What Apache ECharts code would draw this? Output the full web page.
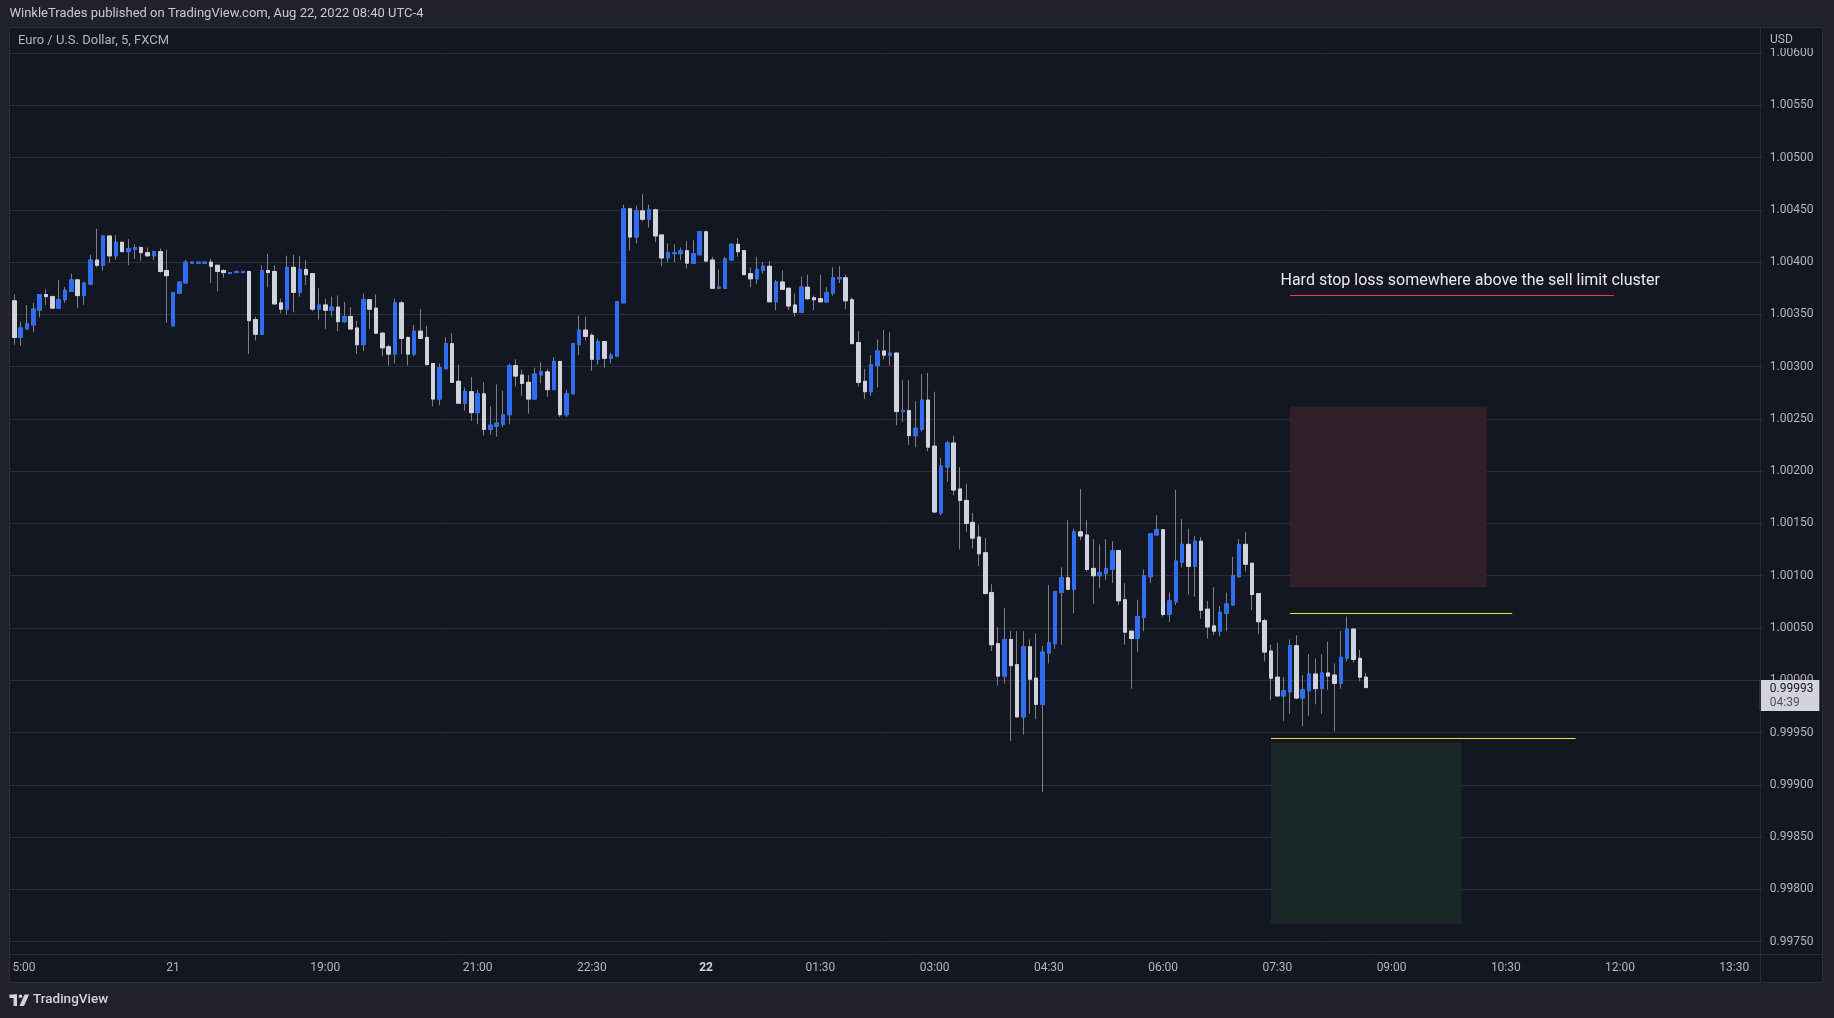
<!DOCTYPE html>
<html><head><meta charset="utf-8">
<script src="https://cdn.jsdelivr.net/npm/echarts/dist/echarts.min.js"></script>
<style>html,body{margin:0;padding:0;background:#1f222b;}#chart{width:1834px;height:1018px;}</style>
</head><body><div id="chart"></div>
<script>
// ---- data (5-minute EUR/USD bars, slot 0 = 14:50 Aug 19) ----
const open = [
1.00375,1.00363,1.00328,1.00336,1.00340,1.00354,1.00369,1.00367,1.00356,1.00364,
1.00372,1.00383,1.00368,1.00379,1.00402,1.00397,1.00425,1.00406,1.00419,1.00410,
1.00412,1.00414,1.00409,1.00406,1.00410,1.00392,1.00339,1.00370,1.00380,1.00399,
1.00399,1.00399,1.00400,1.00397,1.00392,1.00389,1.00390,1.00390,1.00391,1.00345,
1.00331,1.00392,1.00391,1.00361,1.00355,1.00395,1.00371,1.00393,1.00389,1.00355,
1.00359,1.00354,1.00357,1.00343,1.00348,1.00337,1.00321,1.00364,1.00356,1.00332,
1.00319,1.00312,1.00361,1.00328,1.00312,1.00334,1.00328,1.00303,1.00269,1.00298,
1.00322,1.00286,1.00265,1.00276,1.00256,1.00274,1.00240,1.00243,1.00245,1.00254,
1.00301,1.00292,1.00285,1.00269,1.00292,1.00295,1.00278,1.00305,1.00254,1.00274,
1.00321,1.00335,1.00330,1.00307,1.00324,1.00308,1.00310,1.00361,1.00451,1.00424,
1.00449,1.00441,1.00450,1.00426,1.00404,1.00408,1.00408,1.00411,1.00399,1.00407,
1.00429,1.00402,1.00375,1.00375,1.00402,1.00417,1.00411,1.00389,1.00384,1.00392,
1.00396,1.00362,1.00381,1.00375,1.00359,1.00352,1.00376,1.00366,1.00365,1.00362,
1.00370,1.00384,1.00385,1.00364,1.00323,1.00286,1.00276,1.00301,1.00315,1.00311,
1.00313,1.00257,1.00258,1.00234,1.00240,1.00268,1.00224,1.00160,1.00204,1.00227,
1.00183,1.00172,1.00151,1.00137,1.00122,1.00084,1.00035,1.00004,1.00039,1.00015,
0.99965,1.00032,1.00002,0.99977,1.00026,1.00035,1.00084,1.00098,1.00087,1.00142,
1.00139,1.00107,1.00100,1.00102,1.00106,1.00124,1.00077,1.00047,1.00040,1.00060,
1.00099,1.00139,1.00144,1.00063,1.00075,1.00113,1.00130,1.00109,1.00133,1.00068,
1.00052,1.00047,1.00064,1.00072,1.00099,1.00130,1.00112,1.00083,1.00057,1.00028,
1.00003,0.99985,0.99989,1.00033,0.99983,0.99990,1.00006,0.99992,1.00007,1.00005,
0.99997,1.00021,1.00049,1.00021,1.00003];
const high = [
1.00376,1.00369,1.00343,1.00359,1.00361,1.00369,1.00374,1.00368,1.00383,1.00376,
1.00389,1.00383,1.00381,1.00407,1.00432,1.00425,1.00425,1.00426,1.00419,1.00422,
1.00417,1.00415,1.00414,1.00411,1.00413,1.00412,1.00371,1.00381,1.00402,1.00401,
1.00400,1.00400,1.00403,1.00397,1.00393,1.00390,1.00392,1.00392,1.00392,1.00348,
1.00397,1.00408,1.00397,1.00365,1.00406,1.00407,1.00406,1.00402,1.00389,1.00375,
1.00365,1.00367,1.00368,1.00362,1.00357,1.00344,1.00370,1.00364,1.00369,1.00333,
1.00321,1.00365,1.00363,1.00328,1.00340,1.00355,1.00339,1.00303,1.00303,1.00328,
1.00332,1.00302,1.00280,1.00290,1.00278,1.00285,1.00262,1.00283,1.00277,1.00303,
1.00307,1.00297,1.00292,1.00299,1.00304,1.00298,1.00309,1.00305,1.00278,1.00322,
1.00349,1.00348,1.00332,1.00327,1.00324,1.00313,1.00362,1.00455,1.00452,1.00454,
1.00465,1.00455,1.00451,1.00426,1.00418,1.00417,1.00414,1.00420,1.00421,1.00429,
1.00430,1.00405,1.00393,1.00405,1.00418,1.00423,1.00411,1.00395,1.00405,1.00400,
1.00401,1.00383,1.00392,1.00375,1.00370,1.00386,1.00388,1.00368,1.00388,1.00376,
1.00395,1.00396,1.00388,1.00366,1.00334,1.00298,1.00311,1.00326,1.00335,1.00333,
1.00313,1.00287,1.00287,1.00267,1.00293,1.00294,1.00276,1.00213,1.00229,1.00234,
1.00204,1.00188,1.00160,1.00149,1.00136,1.00092,1.00051,1.00069,1.00047,1.00047,
1.00047,1.00039,1.00045,1.00033,1.00091,1.00085,1.00108,1.00153,1.00145,1.00183,
1.00153,1.00135,1.00130,1.00135,1.00133,1.00124,1.00093,1.00047,1.00077,1.00106,
1.00140,1.00158,1.00144,1.00084,1.00182,1.00154,1.00145,1.00138,1.00137,1.00076,
1.00089,1.00071,1.00084,1.00118,1.00135,1.00142,1.00112,1.00083,1.00059,1.00034,
1.00036,1.00003,1.00039,1.00043,1.00005,1.00025,1.00021,1.00025,1.00037,1.00016,
1.00047,1.00061,1.00049,1.00029,1.00007];
const low = [
1.00360,1.00321,1.00320,1.00336,1.00333,1.00347,1.00359,1.00356,1.00356,1.00361,
1.00372,1.00356,1.00359,1.00378,1.00395,1.00392,1.00399,1.00402,1.00410,1.00397,
1.00403,1.00401,1.00406,1.00402,1.00390,1.00342,1.00339,1.00370,1.00380,1.00399,
1.00399,1.00399,1.00380,1.00372,1.00385,1.00389,1.00390,1.00390,1.00312,1.00325,
1.00331,1.00376,1.00360,1.00351,1.00350,1.00352,1.00367,1.00378,1.00353,1.00345,
1.00336,1.00348,1.00334,1.00342,1.00336,1.00312,1.00315,1.00336,1.00331,1.00310,
1.00301,1.00303,1.00312,1.00301,1.00310,1.00327,1.00301,1.00262,1.00263,1.00298,
1.00285,1.00265,1.00258,1.00248,1.00245,1.00234,1.00235,1.00233,1.00242,1.00245,
1.00281,1.00272,1.00255,1.00269,1.00284,1.00271,1.00278,1.00252,1.00252,1.00274,
1.00311,1.00325,1.00296,1.00302,1.00299,1.00303,1.00310,1.00361,1.00411,1.00418,
1.00439,1.00433,1.00419,1.00396,1.00400,1.00400,1.00402,1.00394,1.00399,1.00407,
1.00400,1.00375,1.00375,1.00375,1.00402,1.00405,1.00388,1.00376,1.00379,1.00389,
1.00362,1.00354,1.00374,1.00354,1.00348,1.00352,1.00364,1.00354,1.00362,1.00361,
1.00368,1.00380,1.00355,1.00322,1.00281,1.00269,1.00272,1.00280,1.00307,1.00301,
1.00244,1.00247,1.00225,1.00223,1.00238,1.00219,1.00160,1.00158,1.00190,1.00177,
1.00125,1.00142,1.00126,1.00109,1.00082,1.00028,0.99995,0.99997,0.99942,0.99965,
0.99948,0.99968,0.99963,0.99893,1.00016,1.00030,1.00034,1.00086,1.00064,1.00134,
1.00104,1.00073,1.00088,1.00096,1.00093,1.00072,1.00034,0.99992,1.00027,1.00047,
1.00093,1.00139,1.00061,1.00056,1.00072,1.00108,1.00082,1.00080,1.00059,1.00040,
1.00043,1.00042,1.00047,1.00072,1.00098,1.00104,1.00067,1.00044,1.00018,0.99981,
0.99985,0.99961,0.99968,0.99982,0.99956,0.99966,0.99977,0.99968,0.99991,0.99951,
0.99992,1.00018,1.00017,0.99999,0.99993];
const close = [
1.00362,1.00328,1.00337,1.00341,1.00355,1.00369,1.00367,1.00356,1.00364,1.00373,
1.00383,1.00368,1.00380,1.00402,1.00397,1.00425,1.00406,1.00419,1.00410,1.00413,
1.00414,1.00409,1.00406,1.00410,1.00391,1.00387,1.00371,1.00381,1.00400,1.00400,
1.00400,1.00400,1.00396,1.00391,1.00390,1.00390,1.00391,1.00391,1.00344,1.00331,
1.00392,1.00390,1.00360,1.00355,1.00395,1.00371,1.00393,1.00388,1.00355,1.00359,
1.00354,1.00357,1.00343,1.00348,1.00336,1.00321,1.00364,1.00355,1.00332,1.00318,
1.00312,1.00361,1.00327,1.00312,1.00334,1.00327,1.00302,1.00269,1.00299,1.00322,
1.00285,1.00265,1.00276,1.00256,1.00274,1.00240,1.00244,1.00246,1.00254,1.00301,
1.00291,1.00284,1.00269,1.00293,1.00295,1.00278,1.00305,1.00254,1.00274,1.00322,
1.00335,1.00329,1.00307,1.00324,1.00308,1.00311,1.00362,1.00451,1.00424,1.00449,
1.00441,1.00450,1.00425,1.00404,1.00409,1.00409,1.00411,1.00399,1.00408,1.00429,
1.00401,1.00375,1.00376,1.00403,1.00417,1.00410,1.00388,1.00384,1.00393,1.00396,
1.00362,1.00381,1.00374,1.00358,1.00352,1.00376,1.00365,1.00364,1.00362,1.00371,
1.00385,1.00385,1.00363,1.00322,1.00285,1.00276,1.00302,1.00315,1.00311,1.00313,
1.00257,1.00258,1.00234,1.00241,1.00268,1.00223,1.00161,1.00205,1.00227,1.00182,
1.00172,1.00150,1.00136,1.00121,1.00083,1.00034,1.00004,1.00039,1.00014,0.99965,
1.00032,1.00001,0.99977,1.00027,1.00036,1.00085,1.00098,1.00087,1.00142,1.00138,
1.00106,1.00100,1.00103,1.00107,1.00124,1.00076,1.00046,1.00040,1.00061,1.00100,
1.00140,1.00144,1.00063,1.00076,1.00114,1.00130,1.00109,1.00133,1.00067,1.00051,
1.00047,1.00065,1.00073,1.00100,1.00130,1.00111,1.00082,1.00056,1.00027,1.00002,
0.99985,0.99990,1.00033,0.99983,0.99991,1.00006,0.99992,1.00007,1.00004,0.99997,
1.00022,1.00049,1.00020,1.00003,0.99993];

// time-axis tick labels: [slot index, label]
const timeTicks = [[2,'15:00'],[26,'21'],[50,'19:00'],[74,'21:00'],[92,'22:30'],[110,'22'],
  [128,'01:30'],[146,'03:00'],[164,'04:30'],[182,'06:00'],[200,'07:30'],[218,'09:00'],
  [236,'10:30'],[254,'12:00'],[272,'13:30']];
const slotCount = 277;
const priceMin = 0.9970, priceMax = 1.0065, priceStep = 0.0005;

// drawings (slot index range, price range)
const stopZone = [[202, 233, 1.00262, 1.00089]];
const targetZone = [[199, 229, 0.99940, 0.99767]];
const levelLines = [[202, 237, 1.00064], [199, 247, 0.99945]];
const noteLine = [[202, 253, 1.00369]];
const noteText = 'Hard stop loss somewhere above the sell limit cluster';
const noteAnchor = [[200.5, 1.00382]];
const countdown = '04:39';
const headerText = 'WinkleTrades published on TradingView.com, Aug 22, 2022 08:40 UTC-4';
const paneTitle = 'Euro / U.S. Dollar, 5, FXCM';

// ---- build ----
function pad(n){return String(n).padStart(2,'0');}
const categories = [];
for (let k = 0; k < slotCount; k++) {
  const m = k < 26 ? 14*60+50+5*k : 17*60+5*(k-26);
  categories.push(pad(Math.floor(m/60)%24)+':'+pad(m%60));
}
const tickMap = new Map(timeTicks);
const wickData = open.map((o,i)=>[o, close[i], low[i], high[i]]);
const bodyData = open.map((o,i)=>[o, close[i], Math.min(o,close[i]), Math.max(o,close[i])]);
const last = open.length - 1;

const FONT = 'Roboto, "Noto Sans", sans-serif';
const PANE = '#131722', OUTER = '#1f222b', LINE = '#2a2e39', TXT = '#b2b5be';
const UP = '#2f6ef2', DOWN = '#d1d4dc', WICK = '#7b7e88';

const chart = echarts.init(document.getElementById('chart'), null, {renderer:'canvas'});
const W = 1834, H = 1018;
const gridLeft = 4.75, gridRight = 1762.87, gridTop = 0.76, gridBottom = 993.9;

function rectZone(fill){
  return function(params, api){
    const a = api.coord([api.value(0), api.value(2)]);
    const b = api.coord([api.value(1), api.value(3)]);
    return {type:'rect', shape:{x:a[0], y:a[1], width:b[0]-a[0], height:b[1]-a[1]}, style:{fill:fill}};
  };
}
function hLine(stroke){
  return function(params, api){
    const a = api.coord([api.value(0), api.value(2)]);
    const b = api.coord([api.value(1), api.value(2)]);
    const y = Math.round(a[1]) + 0.5;
    return {type:'line', shape:{x1:a[0], y1:y, x2:b[0], y2:y}, style:{stroke:stroke, lineWidth:1}};
  };
}

chart.setOption({
  animation: false,
  backgroundColor: PANE,
  grid: {left: gridLeft, top: gridTop, width: gridRight-gridLeft, height: gridBottom-gridTop,
         containLabel:false, outerBoundsMode:'none'},
  xAxis: [{
    type:'category', data: categories, boundaryGap: true, z: 5,
    axisLine:{show:false}, axisTick:{show:false}, splitLine:{show:false},
    axisLabel:{
      interval: (idx)=>tickMap.has(idx),
      formatter: (v, idx)=>{ const t = tickMap.get(idx); if(!t) return ''; return t==='22' ? '{b|22}' : t; },
      rich:{b:{fontWeight:'bold', color:'#d1d4dc', fontSize:12, fontFamily:FONT}},
      color: TXT, fontSize: 12, fontFamily: FONT, margin: -26, verticalAlign:'middle'
    }
  },{
    type:'value', min:-0.5, max: slotCount-0.5, show:false, position:'top'
  }],
  yAxis: {
    type:'value', position:'right', min: priceMin, max: priceMax, interval: priceStep,
    axisLine:{show:false}, axisTick:{show:false},
    splitLine:{show:true, lineStyle:{color:LINE, width:1}},
    axisLabel:{formatter:(v)=>v.toFixed(5), color:TXT, fontSize:12, fontFamily:FONT, margin:7, align:'left'}
  },
  series: [
    {type:'custom', xAxisIndex:1, yAxisIndex:0, z:1, silent:true, clip:false,
      encode:{x:[0,1], y:[2,3]}, data: stopZone, renderItem: rectZone('#2e1f28')},
    {type:'custom', xAxisIndex:1, yAxisIndex:0, z:1, silent:true, clip:false,
      encode:{x:[0,1], y:[2,3]}, data: targetZone, renderItem: rectZone('#1b2926')},
    {type:'candlestick', name:'wick', data: wickData, barWidth: 4, z:2, silent:true,
      itemStyle:{color:WICK, color0:WICK, borderColor:WICK, borderColor0:WICK, borderWidth:1}},
    {type:'candlestick', name:'body', data: bodyData, barWidth: 4, z:3, silent:true,
      itemStyle:{color:UP, color0:DOWN, borderColor:UP, borderColor0:DOWN, borderWidth:1}},
    {type:'custom', xAxisIndex:1, yAxisIndex:0, z:4, silent:true, clip:false,
      encode:{x:[0,1], y:2}, data: levelLines, renderItem: hLine('#f2df3a')},
    {type:'custom', xAxisIndex:1, yAxisIndex:0, z:4, silent:true, clip:false,
      encode:{x:[0,1], y:2}, data: noteLine, renderItem: hLine('#f23645')},
    {type:'custom', xAxisIndex:1, yAxisIndex:0, z:5, silent:true, clip:false,
      encode:{x:0, y:1}, data: noteAnchor,
      renderItem: function(params, api){
        const p = api.coord([api.value(0), api.value(1)]);
        return {type:'text', x:p[0], y:p[1], style:{text:noteText, fill:'#e8eaef', font:'16px '+FONT, align:'left', verticalAlign:'middle', textAlign:'left', textVerticalAlign:'middle'}};
      }},
    {type:'custom', xAxisIndex:0, yAxisIndex:0, z:20, silent:true, clip:false,
      encode:{x:0, y:1}, data: [[last, close[last]]],
      renderItem: function(params, api){
        const p = api.coord([api.value(0), api.value(1)]);
        const cs = params.coordSys;
        const rx = cs.x + cs.width - 3;
        const y = p[1];
        return {type:'group', children:[
          {type:'rect', shape:{x:rx, y:Math.round(y)-8, width:59.5, height:31}, style:{fill:'#d1d4dc'}},
          {type:'text', x:rx+10, y:y+1.5, style:{text:close[last].toFixed(5), fill:'#131722', font:'12px '+FONT, align:'left', verticalAlign:'middle', textAlign:'left', textVerticalAlign:'middle'}},
          {type:'text', x:rx+10, y:y+15, style:{text:countdown, fill:'#50535e', font:'12px '+FONT, align:'left', verticalAlign:'middle', textAlign:'left', textVerticalAlign:'middle'}}
        ]};
      }}
  ],
  graphic: [
    {type:'rect', z:50, silent:true, shape:{x:0, y:0, width:W, height:27}, style:{fill:OUTER}},
    {type:'rect', z:50, silent:true, shape:{x:0, y:983, width:W, height:H-983}, style:{fill:OUTER}},
    {type:'rect', z:50, silent:true, shape:{x:0, y:0, width:9.5, height:H}, style:{fill:OUTER}},
    {type:'rect', z:50, silent:true, shape:{x:1823, y:0, width:W-1823, height:H}, style:{fill:OUTER}},
    {type:'rect', z:50, silent:true, shape:{x:1761, y:28, width:61, height:20}, style:{fill:PANE}},
    {type:'rect', z:51, silent:true, shape:{x:9.5, y:27.5, width:1813, height:955}, style:{fill:null, stroke:LINE, lineWidth:1}},
    {type:'line', z:51, silent:true, shape:{x1:1760.5, y1:27.5, x2:1760.5, y2:982.5}, style:{stroke:LINE, lineWidth:1}},
    {type:'line', z:51, silent:true, shape:{x1:9.5, y1:954.5, x2:1823, y2:954.5}, style:{stroke:LINE, lineWidth:1}},
    {type:'text', z:52, silent:true, x:1770, y:40, style:{text:'USD', fill:TXT, font:'12px '+FONT, align:'left', verticalAlign:'middle', textAlign:'left', textVerticalAlign:'middle'}},
    {type:'text', z:52, silent:true, x:9.5, y:14, style:{text:headerText, fill:'#c8cad0', font:'13px '+FONT, align:'left', verticalAlign:'middle', textAlign:'left', textVerticalAlign:'middle'}},
    {type:'text', z:52, silent:true, x:18, y:41, style:{text:paneTitle, fill:TXT, font:'13px '+FONT, align:'left', verticalAlign:'middle', textAlign:'left', textVerticalAlign:'middle'}},
    // TradingView logo
    {type:'rect', z:52, silent:true, shape:{x:9.5, y:994.5, width:7.5, height:3.5}, style:{fill:'#d1d4dc'}},
    {type:'rect', z:52, silent:true, shape:{x:13.5, y:994.5, width:3.5, height:11.5}, style:{fill:'#d1d4dc'}},
    {type:'circle', z:52, silent:true, shape:{cx:20.5, cy:996.3, r:1.8}, style:{fill:'#d1d4dc'}},
    {type:'polygon', z:52, silent:true, shape:{points:[[24.5,994.5],[29,994.5],[24,1006],[19.5,1006]]}, style:{fill:'#d1d4dc'}},
    {type:'text', z:52, silent:true, x:33, y:1000, style:{text:'TradingView', fill:'#d1d4dc', font:'500 13.5px '+FONT, align:'left', verticalAlign:'middle', textAlign:'left', textVerticalAlign:'middle'}}
  ]
});
</script></body></html>
